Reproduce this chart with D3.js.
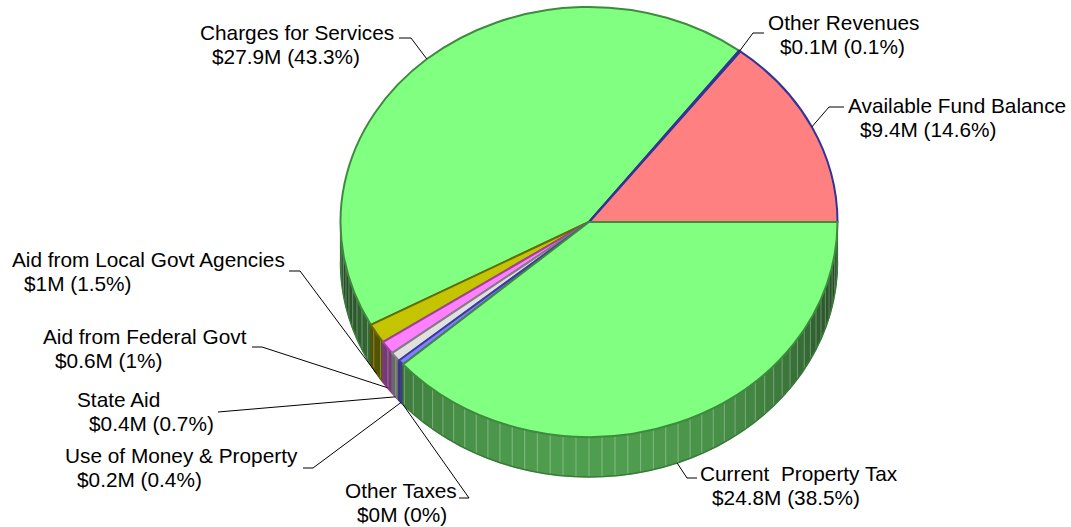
<!DOCTYPE html>
<html><head><meta charset="utf-8">
<script src="https://cdn.jsdelivr.net/npm/d3@7"></script>
<style>body{margin:0;background:#fff}svg{display:block}text{white-space:pre}</style>
</head><body>
<svg id="chart" width="1071" height="527"></svg>
<script>
// ---- data ----
const categories = ["Available Fund Balance","Other Revenues","Charges for Services","Aid from Local Govt Agencies","Aid from Federal Govt","State Aid","Use of Money & Property","Other Taxes","Current  Property Tax"];
const amountLabels = ["$9.4M","$0.1M","$27.9M","$1M","$0.6M","$0.4M","$0.2M","$0M","$24.8M"];
const percents = [14.6,0.1,43.3,1.5,1.0,0.7,0.4,0,38.5];
const percentLabels = ["14.6%","0.1%","43.3%","1.5%","1%","0.7%","0.4%","0%","38.5%"];

// ---- styles ----
const fills   = ["#FF8080","#8080FF","#80FF80","#C4C400","#FF80FF","#E0E0E0","#8080FF","#C0C0C0","#80FF80"];
const strokes = ["#333399","#333399","#3F8A3F","#6A6A00","#A040A0","#808080","#3A3AA0","#808080","#3F8A3F"];
const drawOrder = [2,3,4,5,6,7,0,1,8];

// ---- layout ----
const W = 1071, H = 527;
const cx = 589, cy = 222, rx = 248.5, ry = 215, depth = 40;
// label layout: [textX, baseline, elbowX, elbowY, tickEndX]
const labelLayout = [
  [848,113, 829,107, 844],
  [768, 30, 753, 33, 764],
  [200, 40, 411, 38, 399],
  [ 12,267, 300,271, 289],
  [ 43,344, 262,347, 252],
  [ 77,407, 218,412, 218],
  [ 65,463, 313,468, 303],
  [345,498, 469,498, 459],
  [700,481, 687,478, 697]
];

const svg = d3.select("#chart");

const pie = d3.pie().sort(null).value(d => d)
  .startAngle(Math.PI/2).endAngle(Math.PI/2 - 2*Math.PI);
const arcs = pie(percents);
// convert d3 angle (clockwise from north) to math angle (ccw from east)
const toMath = a => Math.PI/2 - a;
arcs.forEach(a => { a.m0 = toMath(a.startAngle); a.m1 = toMath(a.endAngle); });

const ex = t => cx + rx*Math.cos(t);
const ey = t => cy - ry*Math.sin(t);

// ---- sides ----
const sideG = svg.append("g");
const facetStep = 3*Math.PI/180;
function shade(col, t){
  const s = Math.max(0, -Math.sin(t));
  const f = 0.22 + 0.40*s;
  const c = d3.rgb(col);
  return d3.rgb(c.r*f, c.g*f, c.b*f);
}
arcs.forEach((a,i) => {
  const lo = Math.max(a.m0, Math.PI), hi = Math.min(a.m1, 2*Math.PI);
  if (hi <= lo) return;
  const grid = [lo];
  let g = Math.ceil(lo/facetStep)*facetStep;
  if (g - lo < 1e-6) g += facetStep;
  for (; g < hi - 1e-6; g += facetStep) grid.push(g);
  grid.push(hi);
  for (let k=0;k<grid.length-1;k++){
    const t0 = grid[k], t1 = grid[k+1], tm = (t0+t1)/2;
    const pts = [];
    const n = 4;
    for (let j=0;j<=n;j++){ const t=t0+(t1-t0)*j/n; pts.push([ex(t),ey(t)]); }
    for (let j=n;j>=0;j--){ const t=t0+(t1-t0)*j/n; pts.push([ex(t),ey(t)+depth]); }
    const c = shade(fills[i], tm);
    sideG.append("path").attr("d", d3.line()(pts)+"Z")
      .attr("fill", c).attr("stroke", c).attr("stroke-width", 0.6);
    if (k>0){
      const lc = d3.interpolateRgb(c, "#ffffff")(0.3);
      sideG.append("line").attr("x1",ex(t0)).attr("y1",ey(t0)).attr("x2",ex(t0)).attr("y2",ey(t0)+depth)
        .attr("stroke", lc).attr("stroke-width",1);
    }
  }
  // bottom edge
  const bpts = d3.range(0,41).map(j=>{const t=lo+(hi-lo)*j/40; return [ex(t),ey(t)+depth];});
  sideG.append("path").attr("d", d3.line()(bpts)).attr("fill","none")
    .attr("stroke", d3.rgb(strokes[i]).darker(0.3)).attr("stroke-width",1.5);
  // boundary verticals
  [lo,hi].forEach(t=>{
    sideG.append("line").attr("x1",ex(t)).attr("y1",ey(t)).attr("x2",ex(t)).attr("y2",ey(t)+depth)
      .attr("stroke", d3.rgb(strokes[i]).darker(0.5)).attr("stroke-width",1.2);
  });
});

// ---- tops ----
const topG = svg.append("g").attr("transform", `translate(${cx},${cy}) scale(1,${ry/rx})`);
const arcGen = d3.arc().innerRadius(0).outerRadius(rx);
drawOrder.forEach(i => {
  const a = arcs[i];
  if (a.endAngle === a.startAngle) return;
  topG.append("path").attr("d", arcGen(a))
    .attr("fill", fills[i]).attr("stroke", strokes[i]).attr("stroke-width", 2)
    .attr("stroke-linejoin","round")
    .attr("vector-effect","non-scaling-stroke");
});

// ---- labels ----
const labG = svg.append("g").attr("font-family","'Liberation Sans', Arial, sans-serif")
  .attr("font-size", 20.8).attr("fill","#000");
arcs.forEach((a,i) => {
  const tm = (a.m0 + a.m1)/2;
  const front = Math.sin(tm) < 0;
  const ax = ex(tm), ay = ey(tm) + (front ? depth : 0);
  const [tx, ty, bx, by, kx] = labelLayout[i];
  labG.append("path").attr("d", d3.line()([[ax,ay],[bx,by],[kx,by]]))
    .attr("fill","none").attr("stroke","#000").attr("stroke-width",1);
  const t = labG.append("text").attr("x", tx).attr("y", ty).attr("xml:space","preserve");
  t.append("tspan").attr("x", tx).text(categories[i]);
  t.append("tspan").attr("x", tx+12).attr("dy", 24).text(`${amountLabels[i]} (${percentLabels[i]})`);
});
</script>
</body></html>
